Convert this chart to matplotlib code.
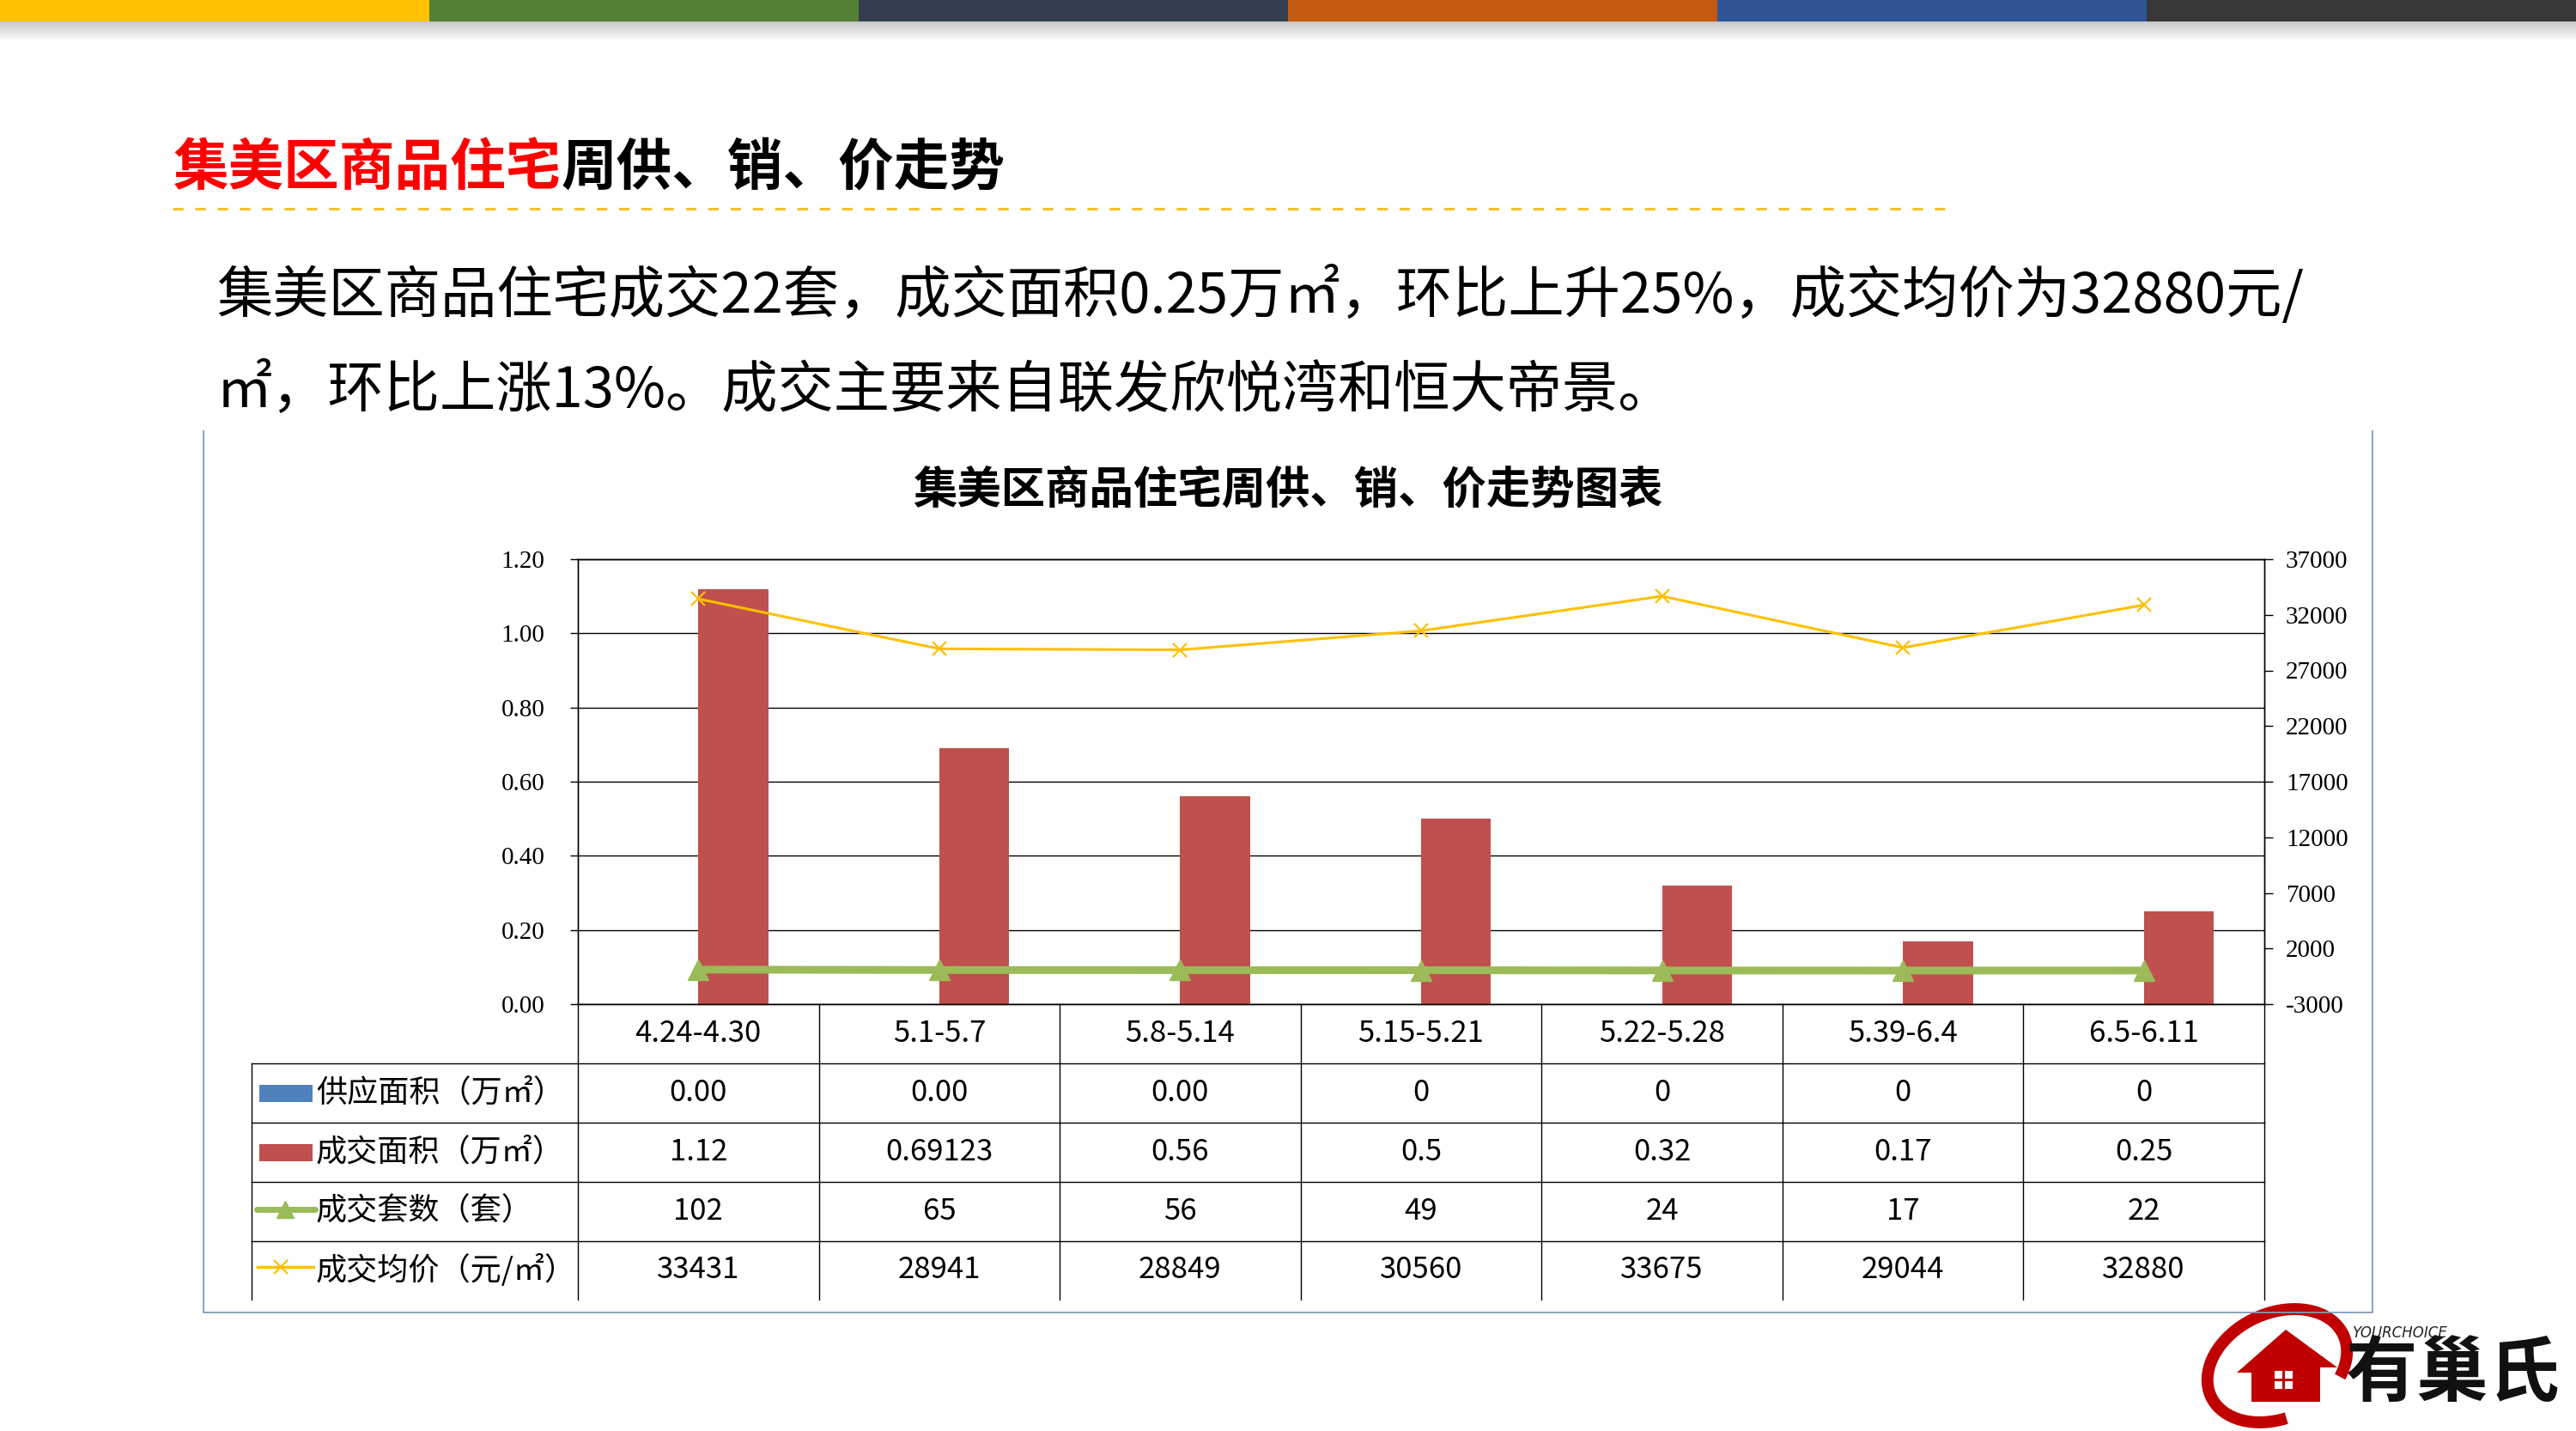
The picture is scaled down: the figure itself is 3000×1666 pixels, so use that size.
import numpy as np
import matplotlib
matplotlib.use('Agg')
from matplotlib import pyplot as plt
from matplotlib.patches import Rectangle, Polygon, Arc
from matplotlib.lines import Line2D

plt.rcParams['font.family'] = ['Noto Sans CJK SC', 'DejaVu Sans']

# ---- data ----
weeks = ['4.24-4.30', '5.1-5.7', '5.8-5.14', '5.15-5.21', '5.22-5.28', '5.39-6.4', '6.5-6.11']
supply_area = [0, 0, 0, 0, 0, 0, 0]
supply_text = ['0.00', '0.00', '0.00', '0', '0', '0', '0']
deal_area = [1.12, 0.69123, 0.56, 0.5, 0.32, 0.17, 0.25]
deal_units = [102, 65, 56, 49, 24, 17, 22]
avg_price = [33431, 28941, 28849, 30560, 33675, 29044, 32880]

left_ticks = [0.0, 0.2, 0.4, 0.6, 0.8, 1.0, 1.2]
right_ticks = [-3000, 2000, 7000, 12000, 17000, 22000, 27000, 32000, 37000]

row_names = ['供应面积（万㎡）', '成交面积（万㎡）', '成交套数（套）', '成交均价（元/㎡）']
top_colors = ['#FFC000', '#538135', '#333F50', '#C55A11', '#2F5597', '#3A3838']

page_title_red = '集美区商品住宅'
page_title_black = '周供、销、价走势'
chart_title = '集美区商品住宅周供、销、价走势图表'
body_lines = ['集美区商品住宅成交22套，成交面积0.25万㎡，环比上升25%，成交均价为32880元/',
              '㎡，环比上涨13%。成交主要来自联发欣悦湾和恒大帝景。']

BLUE, RED, GREEN, GOLD = '#4F81BD', '#C0504D', '#9BBB59', '#FFC000'

W, H = 3000, 1666
fig = plt.figure(figsize=(30, 16.66), dpi=100)

# background axes in pixel coordinates (y down)
bg = fig.add_axes([0, 0, 1, 1], zorder=0)
bg.axis('off')

# top colour stripes + soft shadow
for i, c in enumerate(top_colors):
    bg.add_patch(Rectangle((i * 500, 0), 500, 25, color=c, lw=0))
shade = np.linspace(0.78, 1.0, 30)[:, None]
bg.imshow(shade, extent=[0, W, 48, 25], aspect='auto', cmap='gray', vmin=0, vmax=1)

# page title
t1 = bg.text(201, 196, page_title_red, color='#FF0000', fontsize=46.5,
             fontweight='heavy', va='center', ha='left')
bg.annotate(page_title_black, xy=(1, 0.5), xycoords=t1, color='black',
            fontsize=46.5, fontweight='heavy', va='center', ha='left')
bg.plot([201, 2277], [243, 243], color='#F2C12E', lw=2.2, ls=(0, (4, 4.5)),
        solid_capstyle='butt', dash_capstyle='butt')

# body text
bg.text(252, 344, body_lines[0], fontsize=47, va='center', ha='left')
bg.text(252, 455, body_lines[1], fontsize=47, va='center', ha='left')

# chart frame
frame_c = '#7F9BB9'
bg.plot([237, 237, 2763, 2763], [502, 1528, 1528, 502], color=frame_c, lw=1.3)

bg.text(1500, 570, chart_title, fontsize=37, fontweight='bold', ha='center', va='center')

# ---- plot area ----
PL, PR, PT, PB = 673, 2637, 651, 1169
ax = fig.add_axes([PL / W, 1 - PB / H, (PR - PL) / W, (PB - PT) / H], zorder=1)
n = len(weeks)
x = np.arange(n)
bar_w = 0.29
ax.bar(x, supply_area, width=-bar_w, align='edge', color=BLUE, zorder=2)
ax.bar(x, deal_area, width=bar_w, align='edge', color=RED, zorder=2)
ax.set_xlim(-0.5, n - 0.5)
ax.set_ylim(0, 1.2)
ax.set_yticks(left_ticks)
ax.set_yticklabels([f'{v:.2f}' for v in left_ticks])
ax.set_xticks([])
ax.yaxis.grid(True, color='black', lw=1.0)
ax.set_axisbelow(True)
ax.tick_params(axis='y', direction='out', length=6.5, width=1, pad=21, labelsize=21)
for lab in ax.get_yticklabels():
    lab.set_fontfamily('Liberation Serif')
for s in ax.spines.values():
    s.set_color('black')
    s.set_linewidth(1.0)

ax2 = ax.twinx()
ax2.set_ylim(-3000, 37000)
ax2.set_yticks(right_ticks)
ax2.set_yticklabels([str(v) for v in right_ticks])
ax2.tick_params(axis='y', direction='out', length=7, width=1, pad=11, labelsize=21)
for lab in ax2.get_yticklabels():
    lab.set_fontfamily('Liberation Serif')
for s in ax2.spines.values():
    s.set_color('black')
    s.set_linewidth(1.0)
ax2.plot(x, deal_units, color=GREEN, lw=6.5, marker='^', ms=17, zorder=3)
ax2.plot(x, avg_price, color=GOLD, lw=2.2, marker='x', ms=11, mew=1.6, zorder=4)

# ---- data table under the plot ----
TL = 293
col_w = (PR - PL) / n
col_edges = [PL + k * col_w for k in range(n + 1)]
col_mid = [PL + (k + 0.5) * col_w for k in range(n)]
row_edges = [PB, 1238, 1307, 1376, 1445, 1513]
row_mid = [(row_edges[i] + row_edges[i + 1]) / 2 for i in range(5)]

for e in col_edges:
    bg.plot([e, e], [PB, row_edges[-1]], color='black', lw=1.0)
bg.plot([TL, TL], [row_edges[1], row_edges[-1]], color='black', lw=1.0)
for y in row_edges[1:5]:
    bg.plot([TL, PR], [y, y], color='black', lw=1.0)

fs = 25
for k in range(n):
    bg.text(col_mid[k], row_mid[0], weeks[k], fontsize=fs, ha='center', va='center')
    bg.text(col_mid[k], row_mid[1], supply_text[k], fontsize=fs, ha='center', va='center')
    bg.text(col_mid[k], row_mid[2], str(deal_area[k]), fontsize=fs, ha='center', va='center')
    bg.text(col_mid[k], row_mid[3], str(deal_units[k]), fontsize=fs, ha='center', va='center')
    bg.text(col_mid[k], row_mid[4], str(avg_price[k]), fontsize=fs, ha='center', va='center')

for i, name in enumerate(row_names):
    bg.text(368, row_mid[i + 1], name, fontsize=26, ha='left', va='center')

# legend keys in the table
bg.add_patch(Rectangle((302, row_mid[1] - 10), 62, 20, color=BLUE, lw=0))
bg.add_patch(Rectangle((302, row_mid[2] - 10), 62, 20, color=RED, lw=0))
bg.add_line(Line2D([299, 367], [row_mid[3] - 3, row_mid[3] - 3], color=GREEN, lw=5,
                   solid_capstyle='round'))
bg.plot([332], [row_mid[3] - 3], marker='^', ms=14, color=GREEN)
bg.add_line(Line2D([300, 365], [row_mid[4] - 4, row_mid[4] - 4], color=GOLD, lw=2.5))
bg.plot([327], [row_mid[4] - 4], marker='x', ms=11, mew=1.6, color=GOLD)

# ---- logo (bottom right) ----
LOGO = '#C00000'
bg.add_patch(Arc((2652, 1590), 170, 122, angle=-25, theta1=105, theta2=395,
                 color=LOGO, lw=10))
bg.add_patch(Polygon([(2605, 1598), (2662, 1548), (2722, 1592), (2702, 1592),
                      (2702, 1632), (2622, 1632), (2622, 1598)], closed=True,
                     color=LOGO, lw=0))
for dx in (-6, 6):
    for dy in (-6, 6):
        bg.add_patch(Rectangle((2659 + dx - 4.5, 1606 + dy - 4.5), 9, 9, color='white', lw=0))
bg.text(2740, 1552, 'YOURCHOICE', fontsize=12, style='italic', family='DejaVu Sans',
        ha='left', va='center', color='#222222')
bg.text(2732, 1600, '有巢氏', fontsize=60, fontweight='heavy', ha='left', va='center',
        color='#111111')

bg.set_xlim(0, W)
bg.set_ylim(H, 0)

fig.savefig('out.png', dpi=100, facecolor='white')
